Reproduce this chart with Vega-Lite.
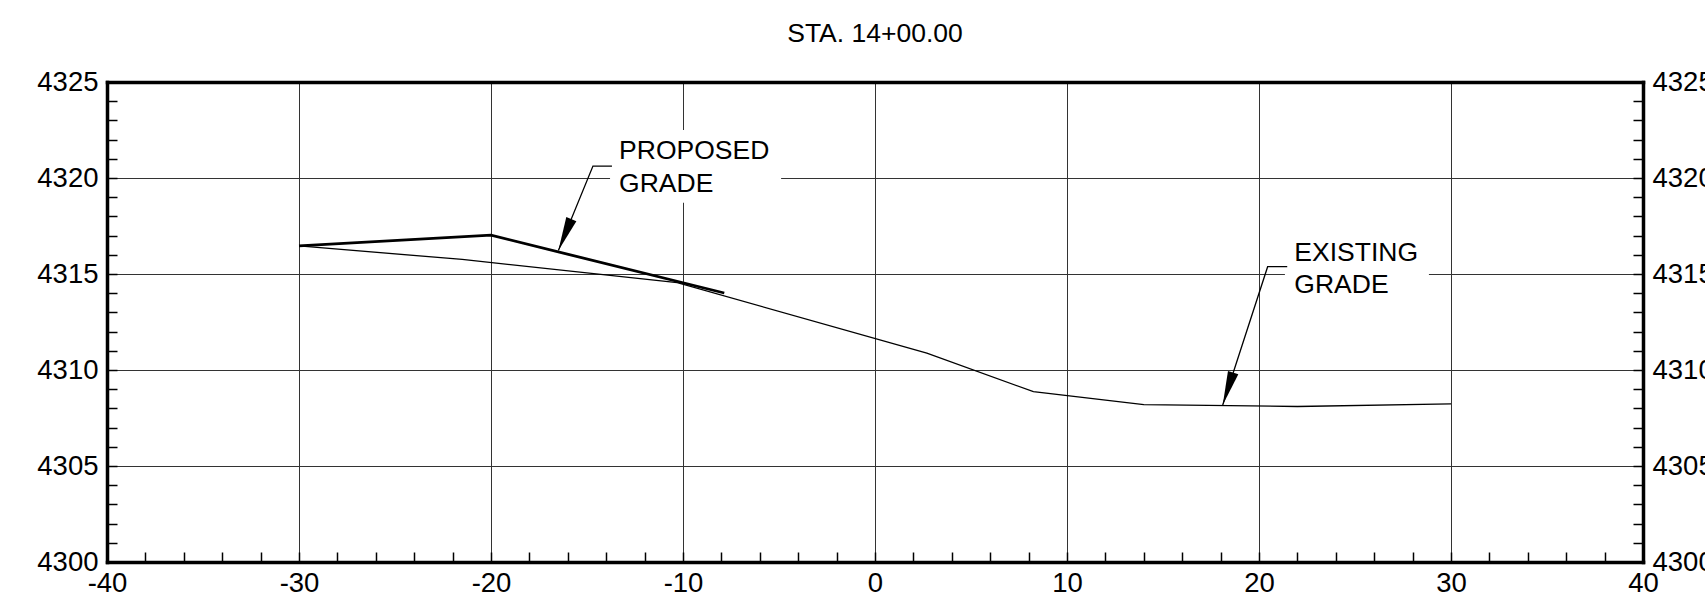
{
  "$schema": "https://vega.github.io/schema/vega-lite/v6.json",
  "width": 1536,
  "height": 480,
  "autosize": {"type": "none"},
  "padding": {"left": 107, "top": 82, "right": 62, "bottom": 42},
  "background": "white",
  "title": {"text": "STA. 14+00.00", "font": "Liberation Sans", "fontSize": 26.5, "fontWeight": "normal", "color": "black", "anchor": "middle", "baseline": "alphabetic", "offset": 0},
  "config": {
    "view": {"stroke": null},
    "axis": {"labelFont": "Liberation Sans", "labelFontSize": 27.5, "labelColor": "black", "title": null, "domainColor": "black", "domainWidth": 3.5, "domainCap": "square", "tickColor": "black", "tickWidth": 1.5, "tickSize": -10, "labelOverlap": false, "labelBound": false, "labelFlush": false, "gridColor": "#333333", "gridWidth": 1}
  },
  "datasets": {
    "grades": [
      {"series": "EXISTING GRADE", "offset": -30, "elev": 4316.46},
      {"series": "EXISTING GRADE", "offset": -21.5, "elev": 4315.76},
      {"series": "EXISTING GRADE", "offset": -10.3, "elev": 4314.55},
      {"series": "EXISTING GRADE", "offset": 2.7, "elev": 4310.88},
      {"series": "EXISTING GRADE", "offset": 8.25, "elev": 4308.87},
      {"series": "EXISTING GRADE", "offset": 14.0, "elev": 4308.2},
      {"series": "EXISTING GRADE", "offset": 22.0, "elev": 4308.1},
      {"series": "EXISTING GRADE", "offset": 30.0, "elev": 4308.24},
      {"series": "PROPOSED GRADE", "offset": -30, "elev": 4316.46},
      {"series": "PROPOSED GRADE", "offset": -20, "elev": 4317.02},
      {"series": "PROPOSED GRADE", "offset": -7.85, "elev": 4314.01}
    ],
    "leaders": [
      {"leader": "PROPOSED", "seq": 1, "offset": -13.7, "elev": 4320.62, "part": "tail"},
      {"leader": "PROPOSED", "seq": 2, "offset": -14.69, "elev": 4320.62, "part": "elbow"},
      {"leader": "PROPOSED", "seq": 3, "offset": -16.49, "elev": 4316.22, "part": "tip"},
      {"leader": "EXISTING", "seq": 1, "offset": 21.47, "elev": 4315.38, "part": "tail"},
      {"leader": "EXISTING", "seq": 2, "offset": 20.45, "elev": 4315.38, "part": "elbow"},
      {"leader": "EXISTING", "seq": 3, "offset": 18.11, "elev": 4308.18, "part": "tip"}
    ],
    "labels": [
      {"label": "PROPOSED\nGRADE", "offset": -13.33, "elev": 4320.97, "box_left": -13.8, "box_right": -4.89, "box_bottom": 4318.71, "box_top": 4322.5},
      {"label": "EXISTING\nGRADE", "offset": 21.84, "elev": 4315.69, "box_left": 21.35, "box_right": 28.85, "box_bottom": 4313.3, "box_top": 4317.3}
    ]
  },
  "layer": [
    {
      "data": {"name": "grades"},
      "transform": [{"filter": "datum.series === 'EXISTING GRADE'"}],
      "mark": {"type": "line", "color": "black", "strokeWidth": 1.3},
      "encoding": {
        "x": {"field": "offset", "type": "quantitative", "scale": {"domain": [-40, 40], "nice": false, "zero": false},
          "axis": {"orient": "bottom", "values": [-40,-38,-36,-34,-32,-30,-28,-26,-24,-22,-20,-18,-16,-14,-12,-10,-8,-6,-4,-2,0,2,4,6,8,10,12,14,16,18,20,22,24,26,28,30,32,34,36,38,40],
            "labelExpr": "datum.value % 10 === 0 ? '' + datum.value : ''", "labelPadding": 17, "grid": true,
            "gridOpacity": {"condition": {"test": "datum.value % 10 === 0", "value": 1}, "value": 0}}},
        "y": {"field": "elev", "type": "quantitative", "scale": {"domain": [4300, 4325], "nice": false, "zero": false},
          "axis": {"orient": "left", "values": [4300,4301,4302,4303,4304,4305,4306,4307,4308,4309,4310,4311,4312,4313,4314,4315,4316,4317,4318,4319,4320,4321,4322,4323,4324,4325],
            "labelExpr": "datum.value % 5 === 0 ? '' + datum.value : ''", "labelPadding": 19, "grid": true,
            "gridOpacity": {"condition": {"test": "datum.value % 5 === 0", "value": 1}, "value": 0}}},
        "order": {"field": "offset"}
      }
    },
    {
      "data": {"name": "grades"},
      "transform": [{"filter": "datum.series === 'PROPOSED GRADE'"}],
      "mark": {"type": "line", "color": "black", "strokeWidth": 2.8},
      "encoding": {
        "x": {"field": "offset", "type": "quantitative", "scale": {"domain": [-40, 40], "nice": false, "zero": false},
          "axis": {"orient": "top", "labels": false, "ticks": false, "grid": false}},
        "y": {"field": "elev", "type": "quantitative", "scale": {"domain": [4300, 4325], "nice": false, "zero": false},
          "axis": {"orient": "right", "values": [4300,4301,4302,4303,4304,4305,4306,4307,4308,4309,4310,4311,4312,4313,4314,4315,4316,4317,4318,4319,4320,4321,4322,4323,4324,4325],
            "labelExpr": "datum.value % 5 === 0 ? '' + datum.value : ''", "labelPadding": 19, "grid": false}},
        "order": {"field": "offset"}
      }
    },
    {
      "data": {"name": "labels"},
      "mark": {"type": "rect", "fill": "white", "stroke": null},
      "encoding": {
        "x": {"field": "box_left", "type": "quantitative", "axis": null},
        "x2": {"field": "box_right"},
        "y": {"field": "box_bottom", "type": "quantitative", "axis": null},
        "y2": {"field": "box_top"}
      }
    },
    {
      "data": {"name": "leaders"},
      "mark": {"type": "line", "color": "black", "strokeWidth": 1.3},
      "encoding": {
        "x": {"field": "offset", "type": "quantitative", "axis": null},
        "y": {"field": "elev", "type": "quantitative", "axis": null},
        "detail": {"field": "leader"},
        "order": {"field": "seq"}
      }
    },
    {
      "data": {"name": "leaders"},
      "transform": [{"filter": "datum.part === 'tip' && datum.leader === 'PROPOSED'"}],
      "mark": {"type": "point", "shape": "M0,0L-0.32,-2L0.32,-2Z", "size": 1156, "filled": true, "color": "black", "opacity": 1, "strokeWidth": 0, "angle": 22.4},
      "encoding": {
        "x": {"field": "offset", "type": "quantitative", "axis": null},
        "y": {"field": "elev", "type": "quantitative", "axis": null}
      }
    },
    {
      "data": {"name": "leaders"},
      "transform": [{"filter": "datum.part === 'tip' && datum.leader === 'EXISTING'"}],
      "mark": {"type": "point", "shape": "M0,0L-0.32,-2L0.32,-2Z", "size": 1156, "filled": true, "color": "black", "opacity": 1, "strokeWidth": 0, "angle": 17.9},
      "encoding": {
        "x": {"field": "offset", "type": "quantitative", "axis": null},
        "y": {"field": "elev", "type": "quantitative", "axis": null}
      }
    },
    {
      "data": {"name": "labels"},
      "mark": {"type": "text", "align": "left", "baseline": "alphabetic", "font": "Liberation Sans", "fontSize": 26.5, "lineBreak": "\n", "lineHeight": 32.4, "color": "black"},
      "encoding": {
        "x": {"field": "offset", "type": "quantitative", "axis": null},
        "y": {"field": "elev", "type": "quantitative", "axis": null},
        "text": {"field": "label"}
      }
    }
  ],
  "resolve": {"axis": {"x": "independent", "y": "independent"}}
}
